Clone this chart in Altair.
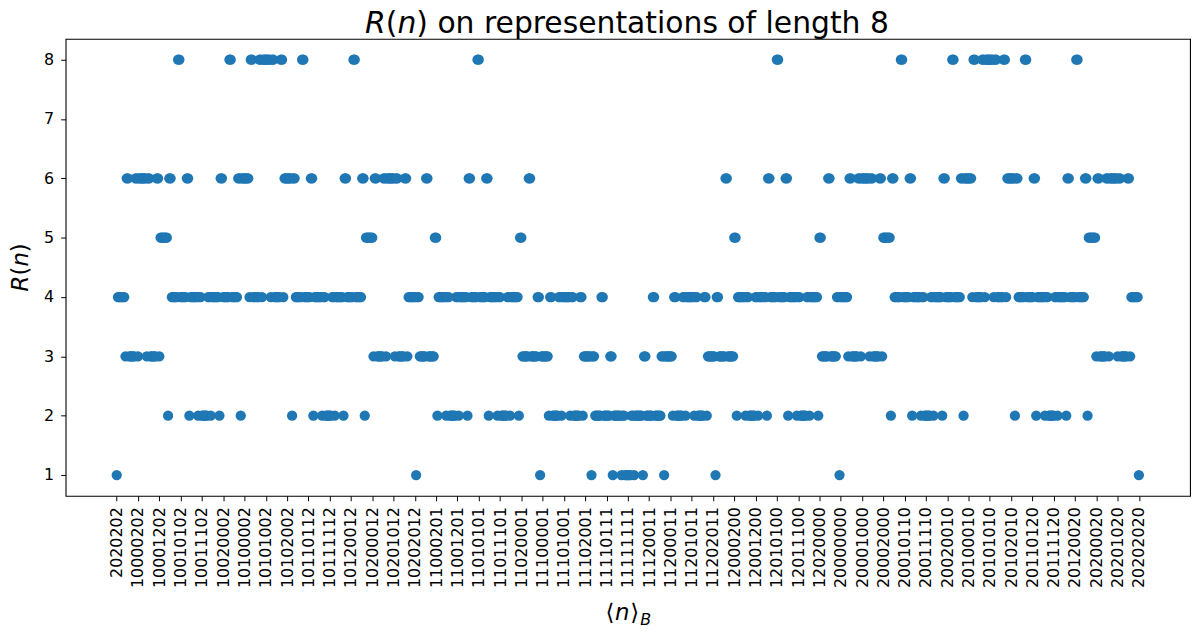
import altair as alt
import pandas as pd

# R(n) values, one digit per representation, in order along the x axis (68 per row)
R_ROWS = [
    "14444443663333366366666636633333663555555266444448844444662444444244",
    "22222442444444266444448844444662666666488444448848888884884444488466",
    "66662664444488444446624444442442222244244444426644444884444466255555",
    "53663333366366666636633333663444444144333336633333552444444244222224",
    "42444444266444448844444662444444244222224424444442553333366333334413",
    "33333244222224424444442442222244233333313322222442222233122222212211",
    "11122122222213322222442222233133333324422222442444444244222224423333",
    "33144333336633333552444444244222224424444442664444488444446624444442",
    "44222224424444442553333366333334414444443663333366366666636633333663",
    "55555526644444884444466244444424422222442444444266444448844444662666",
    "66648844444884888888488444448846666662664444488444446624444442442222",
    "24424444442664444488444446625555553663333366366666636633333663444444",
    "1",
]

TICK_STEP = 17
TICK_LABELS = [
    "2020202", "10000202", "10001202", "10010102", "10011102", "10020002", "10100002",
    "10101002", "10102002", "10110112", "10111112", "10120012", "10200012", "10201012",
    "10202012", "11000201", "11001201", "11010101", "11011101", "11020001", "11100001",
    "11101001", "11102001", "11110111", "11111111", "11120011", "11200011", "11201011",
    "11202011", "12000200", "12001200", "12010100", "12011100", "12020000", "20000000",
    "20001000", "20002000", "20010110", "20011110", "20020010", "20100010", "20101010",
    "20102010", "20110120", "20111120", "20120020", "20200020", "20201020", "20202020",
]
Y_TICKS = [1, 2, 3, 4, 5, 6, 7, 8]

r_values = [int(c) for c in "".join(R_ROWS)]
df = pd.DataFrame({"idx": list(range(len(r_values))), "R": r_values})

n = len(r_values) - 1
pad = 0.05 * n
tick_values = [k * TICK_STEP for k in range(len(TICK_LABELS))]
label_array = "[" + ",".join("'" + t + "'" for t in TICK_LABELS) + "]"

FONT = "DejaVu Sans"
BLUE = "#1f77b4"

points = alt.Chart(df).mark_circle(size=107, opacity=1, color=BLUE).encode(
    x=alt.X("idx:Q",
            scale=alt.Scale(domain=[-pad, n + pad], nice=False, zero=False),
            axis=alt.Axis(values=tick_values,
                          labelExpr=label_array + "[round(datum.value / %d)]" % TICK_STEP,
                          labelAngle=270, labelAlign="right", labelBaseline="middle",
                          labelOverlap=False, labelFlush=False, labelPadding=6,
                          labelFontSize=16, title=None)),
    y=alt.Y("R:Q",
            scale=alt.Scale(domain=[0.65, 8.35], nice=False, zero=False),
            axis=alt.Axis(values=Y_TICKS, format="d", labelFontSize=16, labelPadding=7,
                          title=None)),
)


def txt(s, x, y, size, italic=False, angle=0, align="left", baseline="alphabetic"):
    return alt.Chart(pd.DataFrame({"t": [s]})).mark_text(
        align=align, baseline=baseline, font=FONT, fontSize=size,
        fontStyle="italic" if italic else "normal", angle=angle, color="black",
    ).encode(text="t:N", x=alt.value(x), y=alt.value(y))


# title: "R(n) on representations of length 8" with italic R and n
TS = 30
TY = -6
title_parts = [
    txt("R", 301.5, TY, TS, italic=True),
    txt("(", 322.35, TY, TS),
    txt("n", 334.05, TY, TS, italic=True),
    txt(")", 353.07, TY, TS),
    txt("on representations of length 8", 374.3, TY, TS),
]

# y axis title R(n), rotated
AS = 23
ytitle = [
    txt("R", -45, 254.25, AS, italic=True, angle=270, baseline="middle"),
    txt("(", -45, 238.25, AS, angle=270, baseline="middle"),
    txt("n", -45, 229.27, AS, italic=True, angle=270, baseline="middle"),
    txt(")", -45, 214.7, AS, angle=270, baseline="middle"),
]

# x axis title <n>_B
xtitle = [
    txt("⟨", 552.5, 584.7, AS, align="right"),
    txt("n", 560.5, 584.7, AS, italic=True, align="center"),
    txt("⟩", 568.5, 584.7, AS, align="left"),
    txt("B", 578.5, 590, 16, italic=True, align="left"),
]

chart = alt.layer(points, *title_parts, *ytitle, *xtitle).properties(
    width=1132, height=460,
    autosize=alt.AutoSizeParams(type="none"),
    padding={"left": 58, "top": 29, "right": 4, "bottom": 132},
).configure_view(
    stroke="black", strokeWidth=1.1
).configure_axis(
    grid=False, domain=False, tickColor="black", tickSize=5, tickWidth=1,
    labelColor="black", labelFont=FONT,
)

chart.save("out.html", embed_options={"renderer": "svg", "actions": False})
